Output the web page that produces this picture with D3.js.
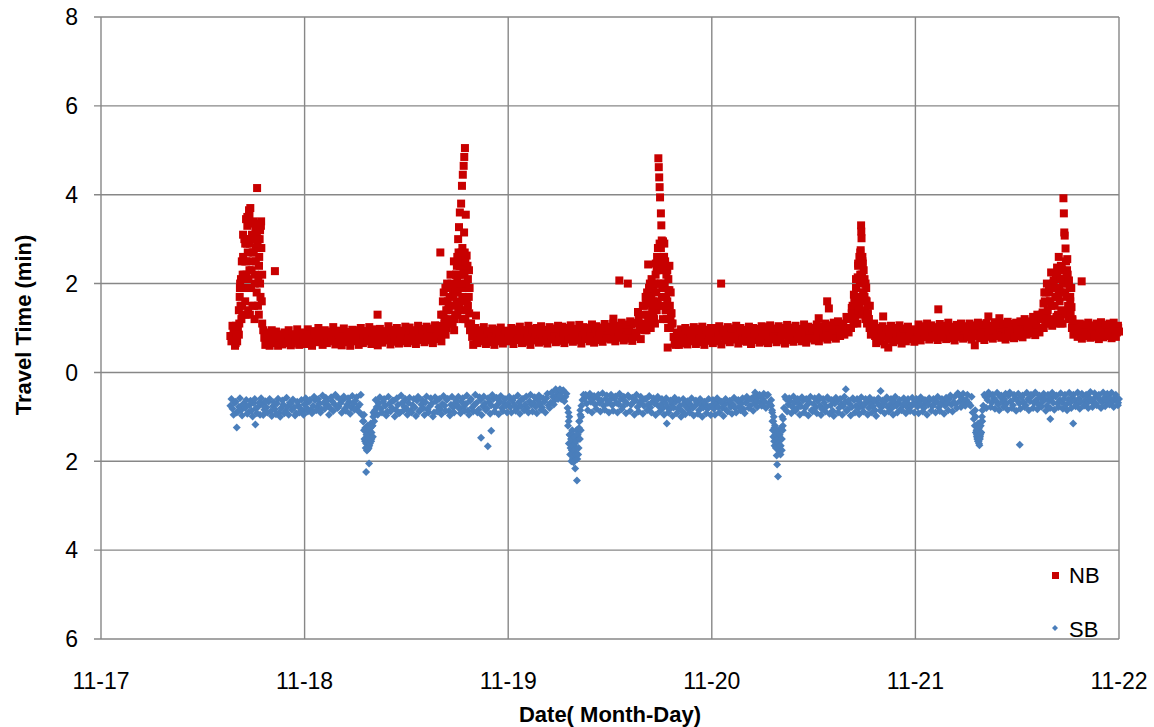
<!DOCTYPE html>
<html><head><meta charset="utf-8">
<script src="https://cdn.jsdelivr.net/npm/d3@7"></script>
<style>body{margin:0;background:#fff}svg{display:block}</style>
</head><body><svg id="c" width="1154" height="727"></svg>
<script>
// ---------- data ----------
const dayLabels = ["11-17","11-18","11-19","11-20","11-21","11-22"];
const yTickValues = [-6,-4,-2,0,2,4,6,8];
const seriesNames = ["NB","SB"];
const SLOT_HOURS = 0.25;          // each array: one reading every 15 minutes
const B_OFFSET_HOURS = 0.125;     // "b" arrays: readings 7.5 min later
const DAY17_START_HOUR = 15.25;   // first reading 11-17 15:15

// NB travel time (min)
const nbDay17 = [0.82,0.74,0.95,0.86,1.4,2.1,2.6,2.9,3.3,3.55,3.35,3.05,2.8,3.0,3.2,1.1,0.78,0.9,0.7,0.82,0.66,0.75,0.86,0.68,0.79,0.72,0.88,0.7,0.76,0.65,0.83,0.74,0.8,0.69,0.85];
const nbDay17b = [0.7,0.98,0.66,1.0,1.9,1.5,2.2,2.5,2.1,3.0,2.7,2.0,3.1,2.4,3.4,0.95,0.62,0.85,0.6,0.95,0.7,0.92,0.6,0.84,0.63,0.9,0.66,0.95,0.61,0.86,0.7,0.97,0.62,0.9,0.72];
const nbDay18 = [
 0.78,0.86,0.72,0.81,0.9,0.75,0.83,0.7,0.88,0.79,0.84,0.73,0.92,0.8,0.76,0.87,0.71,0.83,0.79,0.9,0.74,0.82,0.86,0.77,
 0.81,0.7,0.89,0.78,0.84,0.93,0.75,0.8,0.87,0.72,0.85,0.79,0.91,0.76,0.83,0.88,0.74,0.81,0.95,0.78,0.86,0.72,0.84,0.9,
 0.8,0.87,0.76,0.93,0.82,0.89,0.74,0.98,0.85,0.79,0.92,0.83,0.88,0.77,0.95,0.86,1.05,0.92,1.2,1.0,1.45,1.15,1.75,1.3,
 2.05,2.4,2.6,2.3,1.9,1.5,0.95,0.8,0.88,0.74,0.83,0.9,0.78,0.85,0.72,0.87,0.81,0.76,0.9,0.83,0.79,0.86,0.74,0.88];
const nbDay18b = [
 0.64,0.97,0.85,0.6,0.93,0.68,1.0,0.87,0.62,0.95,0.66,0.9,0.7,1.02,0.63,0.94,0.86,0.61,0.99,0.68,0.91,0.6,0.96,0.73,
 0.95,0.62,1.0,0.66,0.92,0.7,1.02,0.64,0.97,0.88,0.61,0.98,0.67,0.93,0.72,1.04,0.63,0.96,0.69,1.0,0.65,0.94,0.7,1.03,
 0.66,1.01,0.7,0.95,0.64,1.05,0.73,0.97,0.68,1.03,0.72,0.99,0.66,1.06,0.75,1.0,0.7,1.3,0.85,1.6,1.1,1.9,0.95,2.2,
 1.4,2.55,1.2,2.7,1.6,2.3,1.1,0.62,1.0,0.66,0.95,0.7,1.02,0.64,0.93,0.68,0.99,0.62,0.96,0.7,1.01,0.65,0.94,0.72];
const nbDay19 = [
 0.85,0.79,0.92,0.83,0.88,0.76,0.9,0.82,0.95,0.8,0.87,0.74,0.91,0.84,0.78,0.93,0.86,0.81,0.89,0.75,0.94,0.83,0.87,0.8,
 0.9,0.78,0.86,0.95,0.82,0.88,0.76,0.93,0.85,0.8,0.97,0.84,0.89,0.77,0.92,0.86,0.99,0.81,0.9,0.85,0.78,0.96,0.87,0.83,
 0.93,1.0,0.86,0.91,0.8,0.97,0.88,1.03,0.84,0.94,1.08,0.9,0.87,1.12,0.96,1.0,1.3,1.55,1.2,1.8,1.45,2.0,2.3,2.5,
 2.8,2.95,2.5,2.3,1.85,1.33,0.8,0.62,0.8,0.72,0.86,0.7,0.83,0.77,0.9,0.74,0.81,0.87,0.76,0.84,0.79,0.9,0.82,0.77];
const nbDay19b = [
 0.7,1.0,0.64,0.97,0.73,1.03,0.66,0.95,0.69,1.05,0.62,0.98,0.72,1.0,0.67,1.04,0.7,0.96,0.65,1.02,0.74,0.99,0.68,1.05,
 0.71,1.03,0.66,1.0,0.74,1.06,0.69,0.98,0.72,1.07,0.65,1.02,0.75,1.0,0.7,1.08,0.67,1.04,0.73,1.01,0.69,1.09,0.76,1.03,
 0.74,1.1,0.7,1.05,0.78,1.12,0.72,1.08,0.76,1.15,0.71,1.1,0.8,1.2,0.75,1.5,0.95,1.8,1.1,1.65,1.3,2.2,1.6,2.4,
 1.7,2.6,1.4,2.1,1.2,1.1,0.65,0.9,0.62,0.97,0.66,1.0,0.63,0.95,0.7,1.02,0.64,0.98,0.68,1.03,0.62,0.96,0.71,1.0];
const nbDay20 = [
 0.82,0.9,0.77,0.86,0.93,0.8,0.88,0.74,0.91,0.84,0.79,0.95,0.83,0.87,0.76,0.92,0.85,0.81,0.89,0.78,0.94,0.86,0.8,0.9,
 0.84,0.97,0.79,0.88,0.92,0.82,0.87,0.76,0.95,0.89,0.83,0.91,0.78,0.96,0.86,0.9,0.81,0.98,0.87,0.84,0.93,0.79,0.9,0.95,
 0.86,0.99,0.83,0.92,1.02,0.88,0.95,0.84,1.05,0.91,0.97,1.1,0.89,1.0,1.08,0.94,1.0,1.2,1.45,1.75,2.1,2.45,2.7,2.5,
 2.1,1.6,1.2,0.85,0.95,0.82,0.9,0.78,0.93,0.86,0.8,0.96,0.88,0.83,0.91,0.77,0.94,0.87,0.82,0.9,0.85,0.95,0.8,0.89];
const nbDay20b = [
 0.66,1.0,0.7,1.04,0.63,0.97,0.72,1.02,0.68,0.99,0.74,1.05,0.65,1.0,0.71,0.96,0.69,1.03,0.64,1.0,0.73,0.98,0.67,1.04,
 0.7,1.02,0.66,1.06,0.74,0.99,0.68,1.04,0.72,1.0,0.65,1.07,0.73,1.01,0.69,1.05,0.75,0.98,0.7,1.08,0.67,1.03,0.76,1.0,
 0.72,1.08,0.7,1.04,0.78,1.1,0.74,1.06,0.8,1.12,0.76,1.15,0.82,1.1,0.85,1.25,0.9,1.0,1.3,1.2,1.7,1.5,2.2,1.8,
 2.0,1.3,1.5,0.95,1.1,0.66,1.0,0.7,1.04,0.63,0.98,0.74,1.05,0.68,1.0,0.72,1.06,0.65,0.99,0.7,1.03,0.75,0.97,0.69];
const nbDay21 = [
 0.9,0.84,0.97,0.88,0.93,0.8,0.95,0.87,0.91,0.83,0.98,0.89,0.85,0.94,0.79,0.92,0.87,0.96,0.82,0.9,0.93,0.86,0.99,0.84,
 0.91,0.87,0.95,0.82,0.98,0.9,0.85,1.0,0.88,0.93,0.84,0.97,0.91,0.86,1.02,0.89,0.94,0.83,0.99,0.92,0.87,1.04,0.9,0.96,
 0.93,1.05,0.88,1.0,1.1,0.95,1.02,1.15,0.97,1.08,1.2,1.0,1.35,1.6,1.3,1.85,1.5,2.0,1.7,2.2,1.85,2.35,2.1,2.5,
 2.0,1.6,1.2,0.95,0.88,1.0,0.9,0.96,0.84,0.99,0.91,0.87,0.97,0.85,0.93,1.0,0.89,0.95,0.86,0.98,0.92,0.88,0.96,0.9];
const nbDay21b = [
 0.75,1.08,0.72,1.04,0.8,1.1,0.74,1.06,0.78,1.02,0.73,1.09,0.79,1.05,0.75,1.12,0.77,1.03,0.72,1.07,0.8,1.1,0.76,1.04,
 0.79,1.1,0.74,1.06,0.81,1.12,0.77,1.08,0.73,1.11,0.8,1.05,0.76,1.13,0.82,1.07,0.78,1.1,0.74,1.14,0.8,1.09,0.77,1.12,
 0.82,1.15,0.79,1.2,0.85,1.12,0.88,1.25,0.84,1.3,0.9,1.2,1.0,1.8,1.15,1.6,1.05,1.9,1.25,1.75,1.1,2.05,1.35,2.3,
 1.3,1.9,0.85,1.05,0.8,1.1,0.76,1.08,0.82,1.12,0.78,1.06,0.8,1.1,0.75,1.13,0.79,1.07,0.82,1.1,0.77,1.12,0.8,1.05];
// extra NB readings during the peaks: [hour since 11-17 00:00, minutes]
const nbPeakReadings = [
 [15.5,1.05],[15.8,0.6],[15.9,1.05],[16.05,0.7],[16.1,0.95],[16.25,0.85],[16.3,1.1],[16.35,1.7],[16.4,2.0],[16.45,1.5],[16.55,1.2],[16.6,2.5],
 [16.65,1.3],[16.7,2.2],[16.75,3.1],[16.8,1.9],[16.9,3.0],[16.95,2.5],[17.0,1.6],[17.05,1.3],[17.1,3.45],[17.15,2.2],[17.2,2.9],[17.25,3.5],
 [17.3,2.7],[17.35,1.4],[17.4,1.9],[17.45,3.65],[17.5,2.3],[17.55,2.9],[17.55,1.3],[17.6,3.7],[17.7,1.9],[17.75,2.3],[17.8,3.1],[17.85,1.5],
 [17.9,2.5],[17.95,3.4],[18.0,2.7],[18.05,1.5],[18.1,1.2],[18.15,2.2],[18.2,3.2],[18.25,2.5],[18.3,3.35],[18.35,1.8],[18.45,2.9],[18.5,1.5],
 [18.55,2.1],[18.6,1.3],[18.65,2.6],[18.7,3.0],[18.75,2.0],[18.8,1.7],[18.85,3.3],[18.9,2.8],[18.95,1.6],[19.0,2.2],
 [40.0,2.7],[40.1,1.3],[40.2,0.95],[40.3,1.6],[40.4,1.8],[40.5,1.1],[40.6,1.9],[40.7,1.4],[40.8,2.0],[40.9,1.4],[41.0,1.2],[41.1,1.7],
 [41.2,2.2],[41.3,2.0],[41.4,1.5],[41.45,1.1],[41.5,1.95],[41.6,2.5],[41.7,1.2],[41.75,1.8],[41.85,2.2],[41.9,1.6],[41.95,2.4],[42.0,2.6],
 [42.0,1.3],[42.05,1.8],[42.1,3.0],[42.15,2.2],[42.15,2.7],[42.2,3.27],[42.25,1.5],[42.3,3.6],[42.3,1.9],[42.35,2.4],[42.4,2.0],[42.4,2.5],
 [42.45,3.8],[42.5,2.7],[42.55,4.2],[42.55,1.4],[42.6,1.7],[42.6,2.8],[42.65,4.45],[42.7,2.2],[42.7,1.6],[42.75,4.65],[42.8,3.15],
 [42.82,4.85],[42.85,2.2],[42.9,5.05],[42.95,2.5],[42.95,1.2],[43.0,3.55],[43.05,2.0],[43.1,2.63],[43.15,1.4],[43.2,2.4],[43.25,2.1],
 [43.3,1.1],[43.35,1.7],[43.4,1.33],[43.45,1.9],
 [64.0,1.1],[64.1,1.5],[64.2,1.7],[64.3,0.95],[64.4,1.3],[64.5,1.6],[64.6,1.9],[64.7,2.0],[64.8,1.0],[64.9,2.1],[65.0,1.4],[65.1,1.6],
 [65.15,1.9],[65.2,1.2],[65.3,1.1],[65.4,2.45],[65.45,1.8],[65.5,1.4],[65.55,2.6],[65.6,2.0],[65.65,2.8],[65.7,1.5],[65.7,4.82],[65.75,4.62],
 [65.8,4.39],[65.85,4.17],[65.85,2.9],[65.9,3.94],[65.95,2.3],[66.0,3.58],[66.0,2.0],[66.05,3.31],[66.1,2.97],[66.15,1.9],[66.2,2.5],
 [66.25,1.2],[66.3,2.6],[66.35,1.5],[66.4,2.9],[66.45,2.0],[66.5,2.36],[66.55,1.4],[66.6,1.7],[66.65,2.2],[66.7,1.2],[66.75,1.6],
 [66.8,0.56],[66.85,1.0],[66.9,1.85],[67.0,2.4],[67.05,1.5],[67.1,1.0],[67.15,1.8],[67.2,1.33],[67.25,1.1],
 [88.4,1.0],[88.5,1.33],[88.6,1.5],[88.7,1.1],[88.75,1.2],[88.8,1.6],[88.9,1.3],[88.95,1.7],[89.0,1.9],[89.1,1.5],[89.15,1.1],[89.2,2.14],
 [89.25,2.4],[89.3,1.7],[89.35,1.4],[89.4,2.6],[89.45,2.0],[89.5,2.2],[89.55,2.75],[89.55,1.6],[89.6,3.31],[89.62,3.17],[89.65,3.02],
 [89.7,2.2],[89.75,2.6],[89.8,2.45],[89.8,1.3],[89.85,1.8],[89.9,2.3],[89.95,2.07],[90.0,1.7],[90.05,1.4],[90.1,1.2],[90.15,1.62],
 [90.2,1.9],[90.3,1.1],[90.35,1.5],[90.4,1.33],[90.5,1.2],[90.6,1.0],
 [110.9,1.3],[111.0,1.0],[111.1,1.55],[111.2,1.8],[111.3,1.1],[111.4,1.3],[111.5,2.0],[111.6,1.4],[111.7,1.1],[111.8,1.8],[111.9,1.6],
 [112.0,2.25],[112.1,1.2],[112.2,1.9],[112.3,2.07],[112.4,1.5],[112.5,1.1],[112.55,2.2],[112.6,1.9],[112.7,2.36],[112.75,1.7],[112.8,1.3],
 [112.9,2.6],[113.0,1.6],[113.05,1.2],[113.1,2.1],[113.15,2.4],[113.2,1.4],[113.25,1.8],[113.3,2.3],[113.35,1.1],[113.4,2.0],
 [113.45,3.92],[113.5,3.58],[113.55,3.15],[113.6,3.08],[113.65,1.8],[113.7,2.79],[113.75,1.3],[113.8,2.2],[113.85,1.7],[113.9,2.55],
 [113.95,2.2],[114.0,1.5],[114.05,1.2],[114.1,2.07],[114.2,1.9],[114.25,1.7],[114.3,1.3],[114.4,1.47],[114.45,1.0],[114.5,1.17]];
const nbOutliers = [
 [18.4,4.15],[20.5,2.28],[32.6,1.3],[44.2,1.28],[60.4,1.21],[61.1,2.07],[62.1,2.0],[63.3,1.36],[64.5,2.43],[73.1,2.0],
 [84.6,1.22],[85.6,1.6],[85.8,1.44],[92.2,1.26],[92.8,0.56],[98.7,1.42],[103.0,0.61],[104.6,1.26],[105.9,1.22],[115.6,2.05],
 [119.9,1.0],[120,0.92]];

// SB travel time (min), drawn below zero
const sbDay17 = [0.75,0.82,0.68,0.9,0.77,0.85,0.71,0.8,0.93,0.74,0.86,0.69,0.81,0.78,0.95,0.72,0.84,0.79,0.66,0.88,0.76,0.83,0.7,0.91,0.8,0.73,0.87,0.77,0.68,0.84,0.79,0.92,0.74,0.81,0.86];
const sbDay17b = [0.6,0.95,0.66,0.88,0.58,0.97,0.7,0.62,0.9,0.64,0.99,0.6,0.92,0.68,0.58,0.96,0.65,0.9,0.6,0.98,0.67,0.94,0.59,1.0,0.63,0.92,0.57,0.95,0.7,0.61,0.97,0.66,0.9,0.62,0.95];
const sbDay18 = [
 0.72,0.8,0.66,0.85,0.75,0.62,0.78,0.7,0.83,0.68,0.57,0.74,0.8,0.65,0.71,0.55,0.77,0.69,0.62,0.82,0.73,0.66,0.79,0.7,
 0.64,0.78,0.72,0.95,1.3,1.6,1.72,1.45,1.2,0.95,0.78,0.7,0.82,0.66,0.75,0.88,0.7,0.79,0.64,0.84,0.73,0.9,0.68,0.77,
 0.81,0.69,0.86,0.74,0.79,0.63,0.88,0.72,0.8,0.67,0.84,0.76,0.7,0.9,0.65,0.78,0.83,0.71,0.75,0.62,0.87,0.73,0.79,0.68,
 0.74,0.82,0.66,0.77,0.71,0.86,0.64,0.79,0.73,0.69,0.84,0.62,0.76,0.7,0.81,0.67,0.74,0.6,0.78,0.72,0.65,0.8,0.69,0.75];
const sbDay18b = [
 0.58,0.88,0.62,0.92,0.55,0.85,0.6,0.9,0.52,0.82,0.63,0.95,0.56,0.87,0.5,0.8,0.6,0.91,0.54,0.86,0.58,0.93,0.53,0.84,
 0.56,0.88,0.5,1.1,1.55,1.3,1.65,1.5,0.9,0.62,0.95,0.56,0.9,0.6,0.97,0.55,0.88,0.63,0.99,0.58,0.92,0.52,0.86,0.6,
 0.95,0.57,0.9,0.6,0.98,0.55,0.85,0.62,0.96,0.54,0.9,0.58,0.99,0.56,0.88,0.6,0.94,0.53,0.87,0.59,0.97,0.55,0.9,0.62,
 0.55,0.92,0.58,0.86,0.52,0.95,0.6,0.88,0.5,0.9,0.56,0.96,0.54,0.85,0.58,0.93,0.51,0.88,0.57,0.94,0.53,0.87,0.6,0.9];
const sbDay19 = [
 0.7,0.78,0.63,0.74,0.82,0.67,0.76,0.6,0.72,0.8,0.65,0.73,0.69,0.77,0.62,0.71,0.79,0.66,0.58,0.74,0.68,0.55,0.62,0.5,
 0.45,0.6,0.4,0.55,0.8,1.4,1.75,1.9,1.7,1.3,0.85,0.62,0.58,0.7,0.55,0.66,0.6,0.72,0.57,0.68,0.63,0.75,0.59,0.69,
 0.62,0.74,0.58,0.68,0.71,0.6,0.77,0.65,0.7,0.56,0.73,0.67,0.62,0.78,0.69,0.64,0.75,0.6,0.72,0.79,0.66,0.7,0.63,0.76,
 0.73,0.8,0.68,0.77,0.84,0.71,0.79,0.66,0.82,0.75,0.87,0.7,0.78,0.83,0.72,0.8,0.76,0.68,0.85,0.74,0.79,0.71,0.82,0.77];
const sbDay19b = [
 0.55,0.9,0.58,0.86,0.52,0.93,0.6,0.85,0.54,0.9,0.5,0.88,0.56,0.92,0.52,0.84,0.58,0.9,0.48,0.8,0.45,0.72,0.42,0.6,
 0.52,0.42,0.65,0.48,1.1,1.6,1.95,1.55,1.85,1.1,0.75,0.5,0.5,0.85,0.48,0.9,0.53,0.82,0.5,0.88,0.47,0.84,0.52,0.9,
 0.5,0.86,0.54,0.9,0.48,0.83,0.55,0.92,0.52,0.87,0.57,0.95,0.5,0.88,0.55,0.93,0.6,0.85,0.53,0.9,0.58,0.96,0.55,0.88,
 0.6,0.95,0.58,0.9,0.63,0.98,0.57,0.92,0.62,1.0,0.6,0.94,0.65,0.9,0.58,0.97,0.63,0.93,0.6,1.0,0.66,0.92,0.6,0.96];
const sbDay20 = [
 0.74,0.82,0.7,0.78,0.66,0.8,0.73,0.85,0.69,0.77,0.72,0.8,0.64,0.76,0.7,0.83,0.68,0.62,0.75,0.58,0.7,0.64,0.55,0.68,
 0.6,0.66,0.52,0.7,0.62,1.1,1.4,1.6,1.78,1.5,0.8,0.6,0.72,0.65,0.78,0.68,0.82,0.7,0.76,0.63,0.8,0.73,0.67,0.85,
 0.71,0.79,0.64,0.75,0.83,0.68,0.77,0.6,0.74,0.86,0.7,0.65,0.8,0.72,0.76,0.66,0.84,0.71,0.78,0.62,0.75,0.81,0.69,0.77,
 0.73,0.66,0.8,0.7,0.76,0.85,0.68,0.74,0.79,0.71,0.64,0.78,0.72,0.8,0.67,0.75,0.7,0.83,0.74,0.68,0.78,0.72,0.76,0.7];
const sbDay20b = [
 0.62,0.95,0.58,0.9,0.66,0.98,0.6,0.88,0.64,0.93,0.57,0.9,0.62,0.85,0.58,0.92,0.55,0.8,0.6,0.86,0.52,0.78,0.5,0.75,
 0.48,0.8,0.5,0.72,0.9,1.25,1.5,1.7,1.65,1.2,0.55,0.88,0.58,0.92,0.54,0.86,0.6,0.95,0.56,0.9,0.6,0.97,0.55,0.88,
 0.58,0.92,0.55,0.96,0.6,0.88,0.56,0.93,0.62,0.98,0.57,0.9,0.6,0.95,0.55,0.87,0.63,0.97,0.58,0.9,0.6,0.94,0.56,0.88,
 0.6,0.95,0.57,0.9,0.62,0.98,0.58,0.86,0.63,0.92,0.56,0.88,0.6,0.95,0.55,0.9,0.62,0.85,0.58,0.92,0.6,0.87,0.57,0.9];
const sbDay21 = [
 0.7,0.77,0.65,0.74,0.8,0.68,0.73,0.62,0.76,0.7,0.66,0.79,0.72,0.64,0.75,0.69,0.6,0.73,0.67,0.71,0.47,0.65,0.58,0.7,
 0.62,0.68,0.75,0.9,1.2,1.45,1.6,1.35,0.75,0.55,0.62,0.5,0.68,0.58,0.64,0.72,0.55,0.66,0.6,0.7,0.52,0.65,0.74,0.58,
 0.63,0.7,0.56,0.67,0.74,0.6,0.65,0.53,0.69,0.62,0.72,0.57,0.66,0.6,0.75,0.64,0.58,0.68,0.54,0.7,0.62,0.67,0.59,0.73,
 0.61,0.68,0.56,0.64,0.72,0.59,0.66,0.52,0.63,0.69,0.57,0.65,0.6,0.7,0.55,0.62,0.67,0.58,0.64,0.53,0.61,0.66,0.57,0.62];
const sbDay21b = [
 0.6,0.92,0.56,0.88,0.62,0.95,0.58,0.86,0.6,0.9,0.55,0.87,0.6,0.93,0.57,0.85,0.52,0.88,0.55,0.8,0.5,0.78,0.48,0.75,
 0.5,0.72,0.55,1.05,1.35,1.55,1.45,1.1,0.5,0.8,0.45,0.78,0.5,0.82,0.46,0.85,0.52,0.78,0.48,0.84,0.45,0.8,0.5,0.86,
 0.48,0.82,0.52,0.78,0.46,0.85,0.5,0.8,0.45,0.83,0.52,0.77,0.48,0.86,0.5,0.8,0.46,0.84,0.52,0.78,0.47,0.82,0.5,0.85,
 0.46,0.8,0.5,0.76,0.45,0.82,0.48,0.75,0.5,0.8,0.44,0.78,0.47,0.74,0.5,0.8,0.45,0.76,0.48,0.72,0.46,0.78,0.5,0.74];
const sbDipReadings = [
 [30.95,1.1],[31.0,0.95],[31.05,1.5],[31.1,1.3],[31.15,1.25],[31.2,1.7],[31.25,2.24],[31.3,1.4],[31.35,1.76],[31.4,1.2],[31.45,1.55],
 [31.5,1.45],[31.55,1.7],[31.6,2.05],[31.65,1.3],[31.7,1.6],[31.75,1.25],[31.8,1.15],[31.85,1.55],[31.9,1.35],[32.0,1.2],[32.05,1.45],
 [32.1,1.0],[32.15,0.9],[32.2,1.1],[32.3,0.85],
 [55.05,1.2],[55.1,0.9],[55.15,1.6],[55.2,1.0],[55.25,1.4],[55.3,1.85],[55.35,1.7],[55.4,1.5],[55.45,2.0],[55.5,1.85],[55.55,1.3],
 [55.6,1.65],[55.65,1.4],[55.7,2.02],[55.75,1.75],[55.8,1.45],[55.85,1.6],[55.9,2.16],[55.95,1.85],[56.0,1.55],[56.05,1.3],[56.1,2.43],
 [56.15,1.95],[56.2,1.4],[56.25,1.85],[56.3,1.7],[56.35,1.25],[56.4,1.1],[56.45,1.5],[56.5,0.95],[56.55,1.3],[56.6,1.0],
 [79.0,0.75],[79.1,0.85],[79.15,1.1],[79.2,1.3],[79.25,1.45],[79.3,1.0],[79.35,1.55],[79.4,1.65],[79.45,1.2],[79.5,1.3],[79.55,1.7],
 [79.6,1.4],[79.65,1.87],[79.7,2.07],[79.75,1.5],[79.8,2.34],[79.85,1.6],[79.9,1.3],[79.95,1.75],[80.0,1.4],[80.05,1.65],[80.1,1.85],
 [80.15,1.25],[80.2,1.5],[80.25,1.75],[80.3,1.0],[80.35,1.3],[80.4,1.05],
 [103.05,0.85],[103.1,1.0],[103.15,1.2],[103.2,1.3],[103.25,1.4],[103.3,1.5],[103.35,1.3],[103.4,1.15],[103.45,1.55],[103.5,1.25],
 [103.55,1.64],[103.6,1.5],[103.65,1.4],[103.7,1.2],[103.75,1.35],[103.8,1.1],[103.85,1.0],[103.9,0.85]];
const sbOutliers = [
 [16.0,1.24],[18.2,1.17],[44.8,1.47],[45.6,1.66],[46.0,1.31],[53.6,0.38],[54.1,0.38],[66.7,1.15],[77.1,0.45],[87.8,0.38],
 [91.9,0.42],[108.3,1.63],[111.9,1.05],[114.6,1.15],[119.9,0.68],[120,0.6]];

// ---------- build ----------
const T0 = Date.UTC(2013,10,17);
const HOUR = 3600e3;
function slots(arr, startHour){ return arr.map((v,i)=>({t:new Date(T0+(startHour+i*SLOT_HOURS)*HOUR), v})); }
function pairs(arr){ return arr.map(([h,v])=>({t:new Date(T0+h*HOUR), v})); }
function days(list){ return [].concat(...list.map(([a,h])=>slots(a,h))); }
const nbData = [].concat(
  days([[nbDay17,DAY17_START_HOUR],[nbDay18,24],[nbDay19,48],[nbDay20,72],[nbDay21,96]]),
  days([[nbDay17b,DAY17_START_HOUR+B_OFFSET_HOURS],[nbDay18b,24+B_OFFSET_HOURS],[nbDay19b,48+B_OFFSET_HOURS],[nbDay20b,72+B_OFFSET_HOURS],[nbDay21b,96+B_OFFSET_HOURS]]),
  pairs(nbPeakReadings), pairs(nbOutliers));
const sbData = [].concat(
  days([[sbDay17,DAY17_START_HOUR],[sbDay18,24],[sbDay19,48],[sbDay20,72],[sbDay21,96]]),
  days([[sbDay17b,DAY17_START_HOUR+B_OFFSET_HOURS],[sbDay18b,24+B_OFFSET_HOURS],[sbDay19b,48+B_OFFSET_HOURS],[sbDay20b,72+B_OFFSET_HOURS],[sbDay21b,96+B_OFFSET_HOURS]]),
  pairs(sbDipReadings), pairs(sbOutliers));

const L=101, R=1119, T=17, B=639;
const x = d3.scaleUtc().domain([new Date(T0), new Date(T0+5*24*HOUR)]).range([L,R]);
const y = d3.scaleLinear().domain([-6,8]).range([B,T]);
const dayTicks = d3.utcDay.range(new Date(T0), new Date(T0+5*24*HOUR+1));

const svg = d3.select("#c");
const FONT = "'Liberation Sans', Arial, sans-serif";
const GRID = "#878787";

svg.append("g").selectAll("line").data(yTickValues).join("line")
  .attr("x1",L-7).attr("x2",R).attr("y1",d=>y(d)).attr("y2",d=>y(d))
  .attr("stroke",GRID).attr("stroke-width",1.4);
svg.append("g").selectAll("line").data(dayTicks).join("line")
  .attr("x1",d=>x(d)).attr("x2",d=>x(d)).attr("y1",T).attr("y2",B)
  .attr("stroke",GRID).attr("stroke-width",1.4);

svg.append("g").selectAll("text").data(yTickValues).join("text")
  .attr("x",78).attr("y",d=>y(d)).attr("dy","0.36em")
  .attr("text-anchor","end").attr("font-family",FONT).attr("font-size",23).attr("fill","#000")
  .text(d=>Math.abs(d));
svg.append("g").selectAll("text").data(dayTicks).join("text")
  .attr("x",d=>x(d)).attr("y",681).attr("dy","0.36em")
  .attr("text-anchor","middle").attr("font-family",FONT).attr("font-size",23).attr("fill","#000")
  .text((d,i)=>dayLabels[i]);

svg.append("text").attr("x",(L+R)/2).attr("y",714).attr("dy","0.36em").attr("text-anchor","middle")
  .attr("font-family",FONT).attr("font-size",22).attr("font-weight","bold").text("Date( Month-Day)");
svg.append("text").attr("transform","translate(23,325) rotate(-90)").attr("dy","0.36em").attr("text-anchor","middle")
  .attr("font-family",FONT).attr("font-size",22).attr("font-weight","bold").text("Travel Time (min)");

const NB_COLOR = "#C80000", SB_COLOR = "#4A7EBB";
const SQ = 8;
svg.append("g").selectAll("rect").data(nbData).join("rect")
  .attr("x",d=>x(d.t)-SQ/2).attr("y",d=>y(d.v)-SQ/2).attr("width",SQ).attr("height",SQ)
  .attr("fill",NB_COLOR);
const dr = 4;
const diamond = `M0,${-dr}L${dr},0L0,${dr}L${-dr},0Z`;
svg.append("g").selectAll("path").data(sbData).join("path")
  .attr("d",diamond).attr("transform",d=>`translate(${x(d.t)},${y(-d.v)})`)
  .attr("fill",SB_COLOR);

const lg = svg.append("g");
lg.append("rect").attr("x",1052).attr("y",572).attr("width",7).attr("height",7).attr("fill",NB_COLOR);
lg.append("path").attr("d","M0,-3L3,0L0,3L-3,0Z").attr("transform","translate(1055,628)").attr("fill",SB_COLOR);
lg.selectAll("text").data(seriesNames).join("text")
  .attr("x",1069).attr("y",(d,i)=>i? 629:575).attr("dy","0.36em")
  .attr("font-family",FONT).attr("font-size",22).attr("fill","#000").text(d=>d);
</script></body></html>
